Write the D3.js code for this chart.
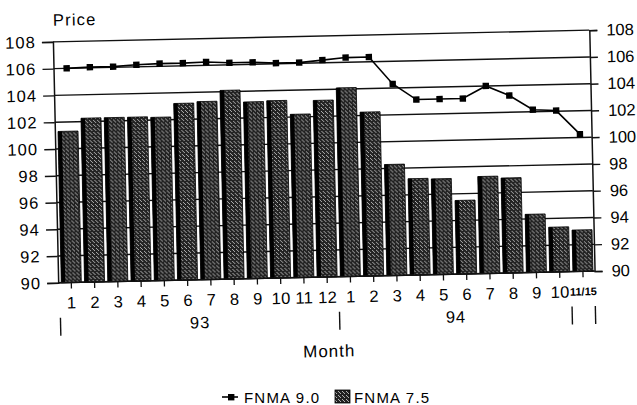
<!DOCTYPE html>
<html>
<head>
<meta charset="utf-8">
<script src="https://cdn.jsdelivr.net/npm/d3@7"></script>
<style>
	body { margin: 0; background: #fff; }
	#chart { width: 637px; height: 405px; overflow: hidden; }
	text { font-family: Arial, "Liberation Sans", Helvetica, sans-serif; fill: #000; }
</style>
</head>
<body>
<div id="chart"></div>
<script>
// month labels: 93 = 1-12, 94 = 1-10, last point is 11/15
var months = [ "1", "2", "3", "4", "5", "6", "7", "8", "9", "10", "11", "12",
	"1", "2", "3", "4", "5", "6", "7", "8", "9", "10", "11/15" ];

// FNMA 9.0 (line)
var fnma90 = [ 106.0, 106.05, 106.05, 106.15, 106.2, 106.2, 106.25, 106.15, 106.15, 106.05, 106.05, 106.2,
	106.35, 106.35, 104.3, 103.1, 103.1, 103.1, 104.0, 103.25, 102.15, 102.05, 100.25 ];

// FNMA 7.5 (bars)
var fnma75 = [ 101.3, 102.25, 102.25, 102.25, 102.2, 103.2, 103.3, 104.1, 103.2, 103.25, 102.2, 103.2,
	104.1, 102.25, 98.3, 97.2, 97.15, 95.5, 97.25, 97.1, 94.35, 93.35, 93.1 ];

// price ticks
var yTicks = [ 90, 92, 94, 96, 98, 100, 102, 104, 106, 108 ];

// year groups (index of first month, index after last month)
var yearLabels = [ "93", "94" ];
var yearStarts = [ 0, 12 ];
var yearEnds = [ 12, 22 ];
// the little | marks under the years
var dividers = [ 0, 12, 22, 23 ];

var W = 637,
	H = 405,
	plot = { left: 55.5, bandLeft: 57, right: 592, top: 36, bottom: 277 };

var svg = d3.select( "#chart" ).append( "svg" )
	.attr( "width", W )
	.attr( "height", H );

// speckled grey fill like the scanned bars
var pat = svg.append( "defs" ).append( "pattern" )
	.attr( "id", "speckle" )
	.attr( "width", 4 )
	.attr( "height", 4 )
	.attr( "patternUnits", "userSpaceOnUse" );
pat.append( "rect" ).attr( "width", 4 ).attr( "height", 4 ).attr( "fill", "#222" );
[ [ 0, 1 ], [ 2, 3 ], [ 3, 0 ] ].forEach( function ( p ) {
	pat.append( "rect" ).attr( "x", p[ 0 ] ).attr( "y", p[ 1 ] )
		.attr( "width", 1 ).attr( "height", 1 ).attr( "fill", "#b0b0b0" );
} );

// the scan is slightly tilted, so tilt the chart body too
var g = svg.append( "g" )
	.attr( "transform", "rotate(-1.25, 323, 157)" );

// X AXIS
var x = d3.scaleBand()
	.domain( d3.range( months.length ) )
	.range( [ plot.bandLeft, plot.right ] )
	.paddingInner( 0.14 )
	.paddingOuter( 0.07 );

// Y AXIS
var y = d3.scaleLinear()
	.domain( [ 90, 108 ] )
	.range( [ plot.bottom, plot.top ] );

// gridlines
g.append( "g" )
	.selectAll( "line" )
	.data( yTicks )
	.enter().append( "line" )
	.attr( "x1", plot.left )
	.attr( "x2", plot.right )
	.attr( "y1", function ( d ) { return y( d ); } )
	.attr( "y2", function ( d ) { return y( d ); } )
	.attr( "stroke", "#111" )
	.attr( "stroke-width", 1.4 );

// left axis
var yLeft = d3.axisLeft( y ).tickValues( yTicks ).tickSize( 11 ).tickPadding( 6 );
var gl = g.append( "g" )
	.attr( "transform", "translate(" + plot.left + ",0)" )
	.call( yLeft );
// right axis
var yRight = d3.axisRight( y ).tickValues( yTicks ).tickSize( 8 ).tickPadding( 9 );
var gr = g.append( "g" )
	.attr( "transform", "translate(" + plot.right + ",0)" )
	.call( yRight );

[ gl, gr ].forEach( function ( ax ) {
	ax.select( ".domain" ).attr( "stroke", "#111" ).attr( "stroke-width", 1.5 );
	ax.selectAll( ".tick line" ).attr( "stroke", "#111" ).attr( "stroke-width", 1.4 );
	ax.selectAll( ".tick text" )
		.attr( "font-size", 16.5 )
		.attr( "fill", "#000" )
		.style( "font-family", "Arial, 'Liberation Sans', sans-serif" );
} );
gl.selectAll( ".tick text" ).attr( "letter-spacing", "1.1px" );

// bars (FNMA 7.5)
var bars = g.append( "g" );
bars.selectAll( "rect.bar" )
	.data( fnma75 )
	.enter().append( "rect" )
	.attr( "class", "bar" )
	.attr( "x", function ( d, i ) { return x( i ); } )
	.attr( "y", function ( d ) { return y( d ); } )
	.attr( "width", x.bandwidth() )
	.attr( "height", function ( d ) { return y( 90 ) - y( d ); } )
	.attr( "fill", "url(#speckle)" )
	.attr( "stroke", "#000" )
	.attr( "stroke-width", 0.8 );
// dark left edge of each bar
bars.selectAll( "rect.edge" )
	.data( fnma75 )
	.enter().append( "rect" )
	.attr( "class", "edge" )
	.attr( "x", function ( d, i ) { return x( i ); } )
	.attr( "y", function ( d ) { return y( d ); } )
	.attr( "width", 4 )
	.attr( "height", function ( d ) { return y( 90 ) - y( d ); } )
	.attr( "fill", "#000" );

// bottom axis line
g.append( "line" )
	.attr( "x1", plot.left )
	.attr( "x2", plot.right )
	.attr( "y1", y( 90 ) )
	.attr( "y2", y( 90 ) )
	.attr( "stroke", "#111" )
	.attr( "stroke-width", 1.5 );

// line (FNMA 9.0)
var line = d3.line()
	.x( function ( d, i ) { return x( i ) + x.bandwidth() / 2; } )
	.y( function ( d ) { return y( d ); } );

g.append( "path" )
	.datum( fnma90 )
	.attr( "d", line )
	.attr( "fill", "none" )
	.attr( "stroke", "#000" )
	.attr( "stroke-width", 1.6 );

g.append( "g" )
	.selectAll( "rect" )
	.data( fnma90 )
	.enter().append( "rect" )
	.attr( "x", function ( d, i ) { return x( i ) + x.bandwidth() / 2 - 3.2; } )
	.attr( "y", function ( d ) { return y( d ) - 3.2; } )
	.attr( "width", 6.4 )
	.attr( "height", 6.4 )
	.attr( "fill", "#000" );

// month ticks + labels
var mt = g.append( "g" );
mt.selectAll( "line" )
	.data( months )
	.enter().append( "line" )
	.attr( "x1", function ( d, i ) { return x( i ) + x.bandwidth() / 2; } )
	.attr( "x2", function ( d, i ) { return x( i ) + x.bandwidth() / 2; } )
	.attr( "y1", y( 90 ) )
	.attr( "y2", y( 90 ) + 6 )
	.attr( "stroke", "#111" )
	.attr( "stroke-width", 1.3 );
mt.selectAll( "text" )
	.data( months )
	.enter().append( "text" )
	.attr( "x", function ( d, i ) { return x( i ) + x.bandwidth() / 2; } )
	.attr( "y", function ( d ) { return d.length > 2 ? 301 : 303; } )
	.attr( "text-anchor", "middle" )
	.attr( "font-size", function ( d ) { return d.length > 2 ? 11 : 16.5; } )
	.attr( "font-weight", function ( d ) { return d.length > 2 ? "bold" : "normal"; } )
	.attr( "letter-spacing", function ( d ) { return d.length > 2 ? "0px" : "0.3px"; } )
	.text( function ( d ) { return d; } );

// year labels
g.append( "g" )
	.selectAll( "text" )
	.data( yearLabels )
	.enter().append( "text" )
	.attr( "x", function ( d, i ) { return ( x( yearStarts[ i ] ) + x( yearEnds[ i ] - 1 ) + x.bandwidth() ) / 2; } )
	.attr( "y", 325.5 )
	.attr( "text-anchor", "middle" )
	.attr( "font-size", 16.5 )
	.attr( "letter-spacing", "1px" )
	.text( function ( d ) { return d; } );

// year dividers
g.append( "g" )
	.selectAll( "line" )
	.data( dividers )
	.enter().append( "line" )
	.attr( "x1", function ( d ) { return plot.bandLeft + d * x.step(); } )
	.attr( "x2", function ( d ) { return plot.bandLeft + d * x.step(); } )
	.attr( "y1", 312 )
	.attr( "y2", 330 )
	.attr( "stroke", "#111" )
	.attr( "stroke-width", 1.4 );

// axis titles
g.append( "text" )
	.attr( "x", 56 )
	.attr( "y", 20 )
	.attr( "font-size", 16.5 )
	.attr( "letter-spacing", "1.2px" )
	.text( "Price" );

g.append( "text" )
	.attr( "x", 325 )
	.attr( "y", 357 )
	.attr( "text-anchor", "middle" )
	.attr( "font-size", 17 )
	.attr( "letter-spacing", "1px" )
	.text( "Month" );

// legend (not tilted)
var lg = svg.append( "g" );
lg.append( "line" )
	.attr( "x1", 222 ).attr( "x2", 238 )
	.attr( "y1", 397 ).attr( "y2", 397 )
	.attr( "stroke", "#000" ).attr( "stroke-width", 1.6 );
lg.append( "rect" )
	.attr( "x", 228 ).attr( "y", 394 )
	.attr( "width", 6.4 ).attr( "height", 6.4 )
	.attr( "fill", "#000" );
lg.append( "text" )
	.attr( "x", 244 ).attr( "y", 402.5 )
	.attr( "font-size", 15 )
	.attr( "letter-spacing", "1.2px" )
	.text( "FNMA 9.0" );
lg.append( "rect" )
	.attr( "x", 335 ).attr( "y", 390 )
	.attr( "width", 15 ).attr( "height", 13 )
	.attr( "fill", "url(#speckle)" )
	.attr( "stroke", "#000" ).attr( "stroke-width", 0.8 );
lg.append( "text" )
	.attr( "x", 354 ).attr( "y", 402.5 )
	.attr( "font-size", 15 )
	.attr( "letter-spacing", "1.2px" )
	.text( "FNMA 7.5" );
</script>
</body>
</html>
